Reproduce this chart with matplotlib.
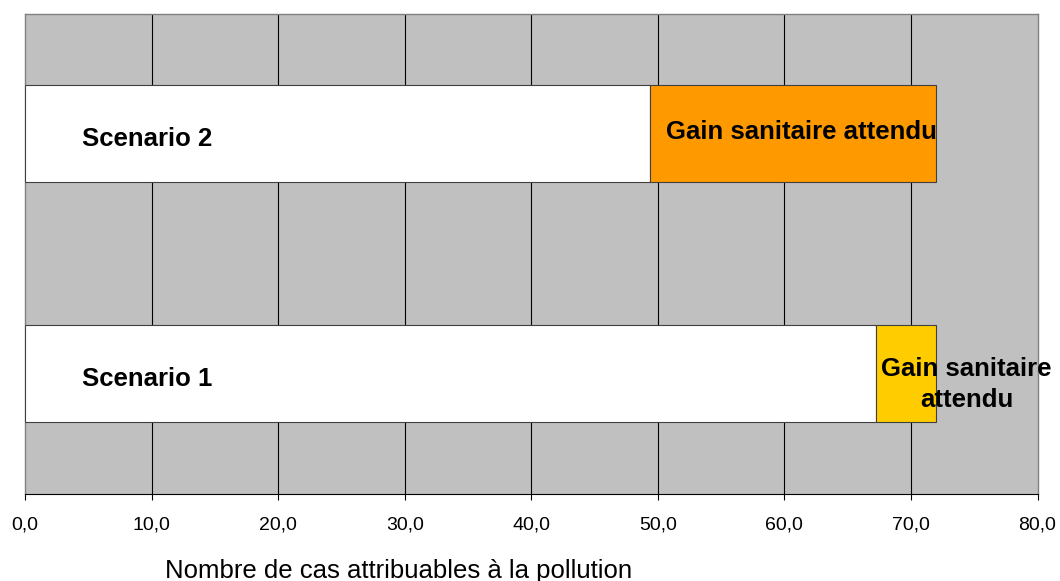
import matplotlib
matplotlib.use("Agg")
import matplotlib.pyplot as plt
from matplotlib.ticker import FuncFormatter

plt.rcParams['font.family'] = ['Liberation Sans', 'DejaVu Sans']

# Data
scenarios = ["Scenario 1", "Scenario 2"]
base_cases = [67.2, 49.4]          # cases remaining after the scenario
gain_cases = [4.8, 22.6]           # expected health gain
gain_colors = ["#FFCC00", "#FF9900"]
gain_labels = ["Gain sanitaire\nattendu", "Gain sanitaire attendu"]
x_ticks = [0, 10, 20, 30, 40, 50, 60, 70, 80]
x_label = "Nombre de cas attribuables à la pollution"

fig = plt.figure(figsize=(10.6, 5.81), dpi=100)
ax = fig.add_axes([25 / 1060, 1 - 493.5 / 581, 1012.5 / 1060, 480 / 581])
ax.set_facecolor("#C0C0C0")

ypos = list(range(len(scenarios)))
bar_h = 0.405

ax.barh(ypos, base_cases, height=bar_h, color="white", edgecolor="#404040",
        linewidth=0.8, zorder=3)
ax.barh(ypos, gain_cases, left=base_cases, height=bar_h, color=gain_colors,
        edgecolor="#404040", linewidth=0.8, zorder=3)

# Category names inside the white bars
for y, name in zip(ypos, scenarios):
    ax.text(4.5, y - 0.025, name, ha="left", va="center", fontsize=18.5,
            fontweight="bold", zorder=5)

# Gain labels
x_offsets = [0.45, 1.25]
y_offsets = [-0.045, 0.005]
for y, b, lab, dx, dy in zip(ypos, base_cases, gain_labels, x_offsets, y_offsets):
    ax.text(b + dx, y + dy, lab, ha="left", va="center", fontsize=18.5,
            fontweight="bold", multialignment="center", zorder=5,
            linespacing=1.34)

ax.set_xlim(0, 80)
ax.set_ylim(-0.5, 1.5)
ax.set_xticks(x_ticks)
ax.xaxis.set_major_formatter(FuncFormatter(lambda v, p: f"{v:.1f}".replace(".", ",")))
ax.set_yticks([])
ax.tick_params(axis="x", direction="out", length=4.3, width=0.8, color="black",
               labelsize=14, pad=12.5)

for v in x_ticks[1:-1]:
    ax.axvline(v, color="black", linewidth=0.8, zorder=1)

for s in ["top", "left", "right"]:
    ax.spines[s].set_color("#808080")
    ax.spines[s].set_linewidth(1.0)
ax.spines["bottom"].set_color("black")
ax.spines["bottom"].set_linewidth(0.8)

fig.text(399 / 1060, 1 - 571 / 581, x_label, ha="center", va="center", fontsize=18.5)

fig.savefig("out.png", dpi=100, facecolor="white")
